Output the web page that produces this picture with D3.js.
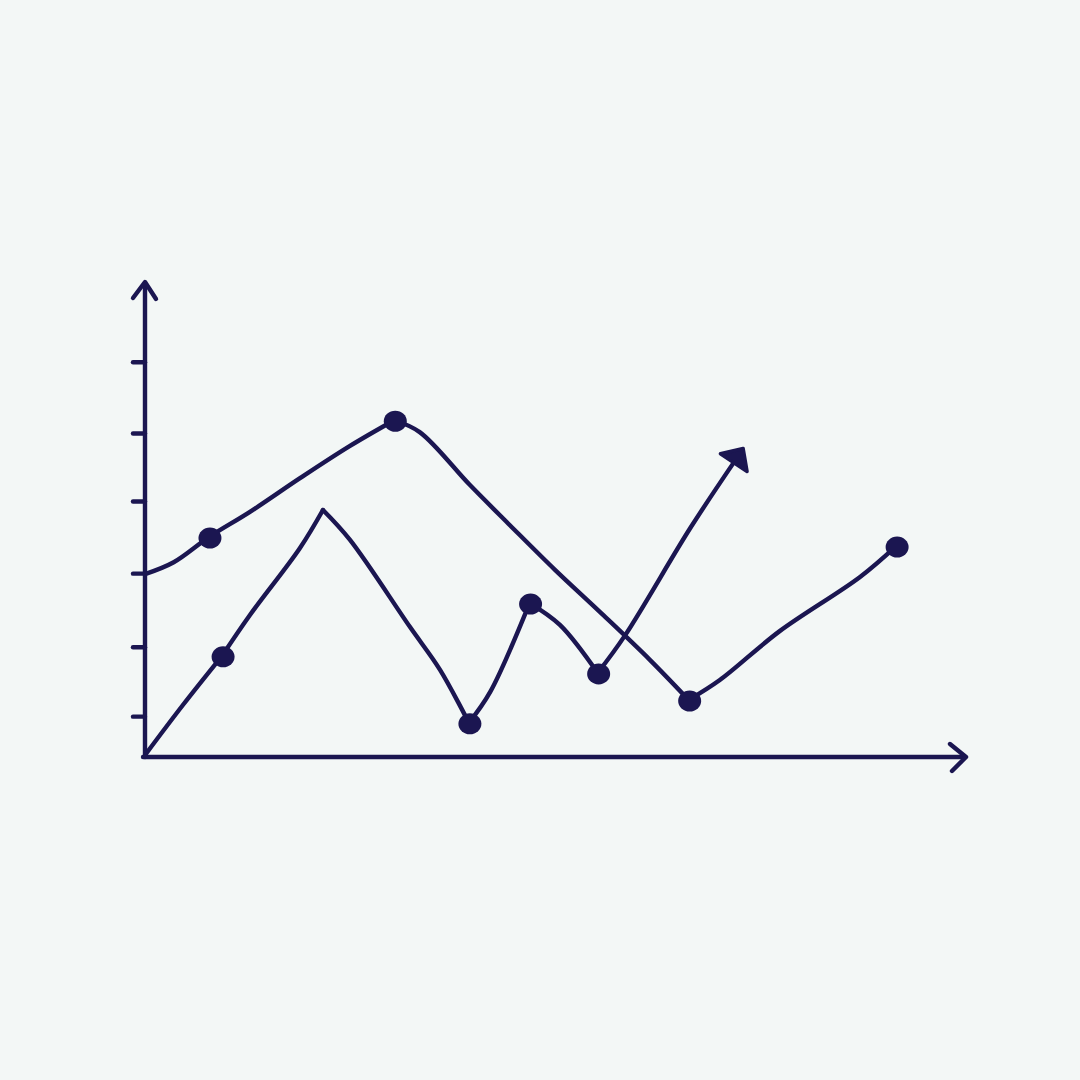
<!DOCTYPE html>
<html>
<head>
<meta charset="utf-8">
<script src="https://cdn.jsdelivr.net/npm/d3@7"></script>
<style>
  html, body { margin: 0; padding: 0; background: #f3f7f6; }
  svg { display: block; }
</style>
</head>
<body>
<svg id="chart"></svg>
<script>
// values (x and y in 0..100 chart units)
const upperX = [0, 3.5, 7.8, 12.8, 18.9, 25.0, 30.4, 33.5, 39.6, 44.5, 50.0, 55.5, 61.6, 66.3, 70.1, 77.4, 87.2, 91.6];
const upperY = [38.5, 41.0, 46.3, 51.6, 58.7, 65.5, 70.9, 68.4, 57.3, 48.8, 39.4, 30.5, 20.4, 12.0, 16.2, 26.5, 37.9, 44.4];
const upperDots = [2, 6, 13, 17];
const upperBreaks = [0, 6, 13, 17];

const lowerX = [0, 4.6, 9.4, 12.8, 18.9, 21.7, 25.0, 32.3, 36.0, 39.5, 42.1, 46.9, 50.6, 55.2, 58.5, 66.5, 72.0];
const lowerY = [0.4, 10.9, 21.3, 29.9, 44.0, 52.0, 45.7, 27.4, 18.3, 7.2, 13.7, 32.4, 27.8, 17.7, 25.5, 48.2, 62.5];
const lowerDots = [2, 9, 11, 13];
const lowerBreaks = [0, 2, 5, 9, 11, 13, 16];

const yTicks = [8.6, 23.2, 38.7, 53.9, 68.2, 83.2];

const ink = "#1b1651";
const W = 1080, H = 1080;

const svg = d3.select("#chart")
  .attr("width", W)
  .attr("height", H);

const x = d3.scaleLinear().domain([0, 100]).range([145, 965]);
const y = d3.scaleLinear().domain([0, 100]).range([757, 282]);

const g = svg.append("g")
  .attr("fill", "none")
  .attr("stroke", ink)
  .attr("stroke-width", 4.4)
  .attr("stroke-linecap", "round")
  .attr("stroke-linejoin", "round");

// y ticks, no labels
const yAxis = g.append("g")
  .attr("transform", `translate(${x(0)},0)`)
  .call(d3.axisLeft(y).tickValues(yTicks).tickSize(12).tickFormat(""));
yAxis.select(".domain").remove();
yAxis.selectAll(".tick line")
  .attr("stroke", ink)
  .attr("stroke-width", 4.4)
  .attr("stroke-linecap", "round");

// axis lines with open arrow heads
g.append("line")
  .attr("x1", x(0)).attr("y1", y(0))
  .attr("x2", x(0)).attr("y2", y(100) + 2);
g.append("path")
  .attr("d", `M${x(0) - 12},${y(100) + 16} L${x(0)},${y(100)} L${x(0) + 11},${y(100) + 17}`);

g.append("line")
  .attr("x1", x(0) - 2).attr("y1", y(0))
  .attr("x2", x(100) - 2).attr("y2", y(0));
g.append("path")
  .attr("d", `M${x(100) - 15},${y(0) - 13} L${x(100) + 1},${y(0)} L${x(100) - 13},${y(0) + 14}`);

// draw a series as smooth pieces between its corner points
const drawSeries = (xs, ys, breaks) => {
  const pts = xs.map((d, i) => [x(d), y(ys[i])]);
  const line = d3.line().curve(d3.curveCatmullRom.alpha(0.5));
  for (let k = 0; k < breaks.length - 1; k++) {
    g.append("path").attr("d", line(pts.slice(breaks[k], breaks[k + 1] + 1)));
  }
  return pts;
};

const upperPts = drawSeries(upperX, upperY, upperBreaks);
const lowerPts = drawSeries(lowerX, lowerY, lowerBreaks);

// arrow head at the end of the lower series
const end = lowerPts[lowerPts.length - 1], prev = lowerPts[lowerPts.length - 2];
const len = Math.hypot(end[0] - prev[0], end[1] - prev[1]);
const dx = (end[0] - prev[0]) / len, dy = (end[1] - prev[1]) / len;
const tip = [end[0] + 14 * dx, end[1] + 14 * dy];
const b1 = [end[0] - 3 * dx + 16 * -dy, end[1] - 3 * dy + 16 * dx];
const b2 = [end[0] - 3 * dx - 16 * -dy, end[1] - 3 * dy - 16 * dx];
g.append("path")
  .attr("d", `M${b2[0]},${b2[1]} L${tip[0]},${tip[1]} L${b1[0]},${b1[1]} Z`)
  .attr("fill", ink)
  .attr("stroke-width", 3.5);

// blobby dots
const dots = upperDots.map(i => upperPts[i]).concat(lowerDots.map(i => lowerPts[i]));
svg.append("g")
  .selectAll("ellipse")
  .data(dots)
  .join("ellipse")
    .attr("cx", d => d[0] + 1)
    .attr("cy", d => d[1] + 1)
    .attr("rx", 11.5)
    .attr("ry", 10.5)
    .attr("fill", ink);
</script>
</body>
</html>
